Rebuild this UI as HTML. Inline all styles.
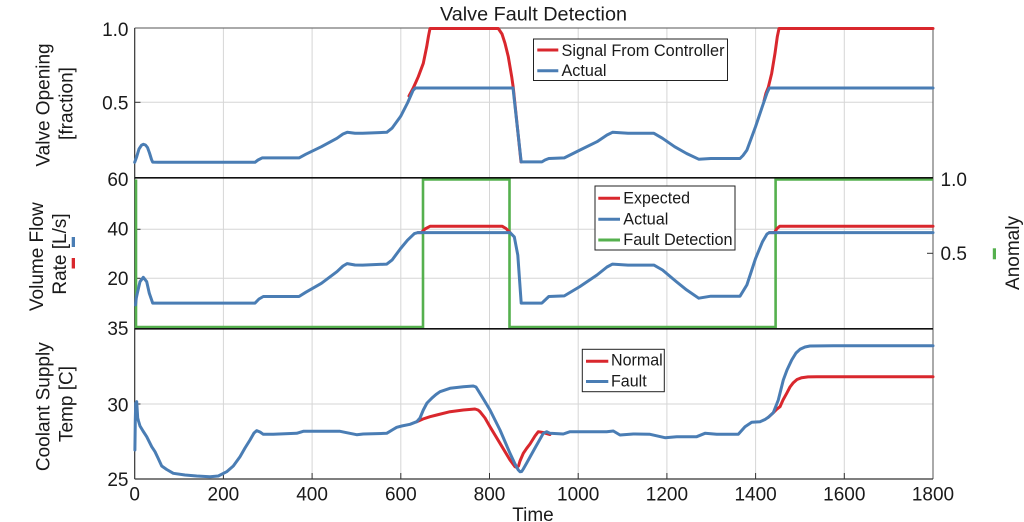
<!DOCTYPE html>
<html>
<head>
<meta charset="utf-8">
<style>
  html, body { margin: 0; padding: 0; background: #fff; }
  svg { display: block; }
  text { font-family: "Liberation Sans", Arial, sans-serif; fill: #1a1a1a; }
</style>
</head>
<body>
<svg width="1024" height="522" viewBox="0 0 1024 522" xmlns="http://www.w3.org/2000/svg">
  <rect width="1024" height="522" fill="#fff"/>

  <!-- Vertical grid -->
  <g stroke="#d6d6d6" stroke-width="1">
    <line x1="223.4" y1="28" x2="223.4" y2="479"/>
    <line x1="312.1" y1="28" x2="312.1" y2="479"/>
    <line x1="400.8" y1="28" x2="400.8" y2="479"/>
    <line x1="489.5" y1="28" x2="489.5" y2="479"/>
    <line x1="578.2" y1="28" x2="578.2" y2="479"/>
    <line x1="666.9" y1="28" x2="666.9" y2="479"/>
    <line x1="755.6" y1="28" x2="755.6" y2="479"/>
    <line x1="844.3" y1="28" x2="844.3" y2="479"/>
    <!-- Horizontal grid -->
    <line x1="134.7" y1="102.3" x2="933" y2="102.3"/>
    <line x1="134.7" y1="229.3" x2="933" y2="229.3"/>
    <line x1="134.7" y1="278.3" x2="933" y2="278.3"/>
    <line x1="134.7" y1="404" x2="933" y2="404"/>
  </g>

  <!-- Frame -->
  <g stroke="#555" stroke-width="1" fill="none">
    <line x1="134.7" y1="28" x2="933" y2="28"/>
    <line x1="933" y1="28" x2="933" y2="479"/>
  </g>
  <g stroke="#333" stroke-width="1.2" fill="none">
    <line x1="134.7" y1="28" x2="134.7" y2="479"/>
    <line x1="134.7" y1="479" x2="933" y2="479"/>
  </g>

  <!-- Ticks -->
  <g stroke="#333" stroke-width="1">
    <line x1="134.7" y1="102.3" x2="140.5" y2="102.3"/>
    <line x1="134.7" y1="229.3" x2="140.5" y2="229.3"/>
    <line x1="134.7" y1="278.3" x2="140.5" y2="278.3"/>
    <line x1="134.7" y1="404" x2="140.5" y2="404"/>
    <line x1="927" y1="253.3" x2="933" y2="253.3"/>
    <line x1="223.4" y1="479" x2="223.4" y2="473"/>
    <line x1="312.1" y1="479" x2="312.1" y2="473"/>
    <line x1="400.8" y1="479" x2="400.8" y2="473"/>
    <line x1="489.5" y1="479" x2="489.5" y2="473"/>
    <line x1="578.2" y1="479" x2="578.2" y2="473"/>
    <line x1="666.9" y1="479" x2="666.9" y2="473"/>
    <line x1="755.6" y1="479" x2="755.6" y2="473"/>
    <line x1="844.3" y1="479" x2="844.3" y2="473"/>
  </g>

  <!-- Fault detection (green) -->
  <polyline fill="none" stroke="#55b04e" stroke-width="2.6" stroke-linejoin="miter"
    points="136,179.5 136,327 423,327 423,179.5 509.5,179.5 509.5,327 775.6,327 775.6,179.5 933,179.5"/>

  <!-- Panel separators (black) -->
  <g stroke="#111" stroke-width="1.6">
    <line x1="134.7" y1="177.8" x2="933" y2="177.8"/>
    <line x1="134.7" y1="328.8" x2="933" y2="328.8"/>
  </g>

  <g fill="none" stroke-width="3" stroke-linejoin="round" stroke-linecap="round">
    <!-- TOP PANEL: red signal from controller -->
    <polyline stroke="#d9272d" points="409,96 413,88.5 415.5,83 418.3,76.7 423.3,63.3 426.7,46.7 428.5,36 430,28.5 498.3,28.5 502,34 505,43.3 508.3,56.7 511.7,76.7 513.3,88 521,161.9"/>
    <polyline stroke="#d9272d" points="764,101 766,93 768.3,87.3 771.7,73.3 775,53.3 777.3,36.7 779,28.5 933,28.5"/>
    <!-- TOP PANEL: blue actual -->
    <polyline stroke="#4a7db4" points="134.7,162.3 136.7,156.7 139,149 141.5,145.2 143.3,144.3 145.5,145 147.5,147.5 149.5,153 151.5,159.5 152.7,162.1 158,162.3 255,162.3 258,160 262.1,157.9 299,157.9 305.9,154.2 321.4,146.7 336.9,138.3 343,134 347.2,132.3 355,133.3 362.7,133.3 386.8,132.3 392,128.2 400.6,116.4 407.5,103 413,90.5 415.4,88 513,88 521.2,161.9 541.9,161.9 545,160 548.8,158.5 564.3,157.9 579.8,150.1 597,141.7 607,135 612.5,132.3 628,133.3 653.9,133.3 662.5,138.3 674.6,146.7 686.6,153.5 698.7,159.2 710.8,158.5 740,158.5 743,155.5 746.9,150.1 751,139 755.6,126.5 762.4,106.3 767,93 769.3,88 933,88"/>

    <!-- MIDDLE PANEL: red expected -->
    <polyline stroke="#d9272d" points="418,232.6 421.3,232.6 425,229 430,226.3 502.3,226.3 506,228.5 510,232.6"/>
    <polyline stroke="#d9272d" points="769.3,232.6 774.5,232.6 777,228.5 779.7,226.3 933,226.3"/>
    <!-- MIDDLE PANEL: blue actual -->
    <polyline stroke="#4a7db4" points="135.5,305 136.3,298 137.3,293.3 140,281.7 143.3,277.3 146.7,281.7 149.3,293.3 152.7,303.1 255,303.1 259,299 263.3,296.5 299,296.5 305.9,292.2 321.4,283.3 336.9,271.7 343,266 347.2,263.6 355,265 362.7,265.1 386.8,264.1 392,260.1 400.6,248.5 407.5,240.2 414.4,233.6 418,232.6 510,232.6 514.3,236.9 517.8,255.1 521.2,303.1 541.9,303.1 548.8,296.5 564.3,295.9 579.8,286.6 597,275 607,267 612.5,264.1 628,265.1 653.9,265.1 662.5,270 676.3,281.6 686.6,289.9 698.7,298.2 710.8,296.2 740,296.2 746.9,284.9 755.6,258.4 762.4,241.9 767,234 769.3,232.6 933,232.6"/>

    <!-- BOTTOM PANEL: red normal -->
    <polyline stroke="#d9272d" points="416.7,421.7 423,419 430,416.7 436.7,415 450,411.7 463.3,410 475,409 478,410 480,411.7 485,418 490,426.7 500,443.3 510,460 515,466.7 517,467.5 518.5,466 520,461 523.3,453.3 526.7,448.3 530,444 535,436 538.3,431.7 543,432.5 550,434.5"/>
    <polyline stroke="#d9272d" points="768.3,417.3 773.3,412.7 777,409 780,406.7 783,400 786.7,393.3 790,387 793.3,382.7 797,379.5 801.7,377.7 808,376.9 816.7,376.7 933,376.7"/>
    <!-- BOTTOM PANEL: blue fault -->
    <polyline stroke="#4a7db4" points="134.9,450 135.3,420 135.7,403.3 136.7,401.7 137.7,418 138.5,421 140,426 143,431 146.7,436.7 151.7,446.7 155,451.7 158,458 161.7,466 166.7,469.5 173.3,473.3 185,475 196.7,476 210,476.7 218.3,476 226.7,471.7 233.3,466 240,456.7 245,448 250,440 254,433 256.7,430.7 260,432 263.3,434.3 273.3,434.3 296.7,433.3 303.3,431.3 340,431.3 346.7,432.7 356.7,434.7 363.3,434 386.7,433.3 393,429.5 396.7,427.3 401.7,426 410,424.3 416.7,421.7 420,418 423.3,410 427,403 431.7,398.3 436,394.5 440,391.7 450,388.3 463.3,386.7 473.3,386 476,387 478.3,390.7 484,400 490,410 500,430 510,453.3 515,464 518.3,470 520,471.7 521.7,471.5 523.3,469 526.7,463 535,448 543.3,433.3 546.7,431.7 550,433.3 563.3,434 570,431.7 606.7,431.7 613.3,431 620,435 633.3,434 650,434.3 665,437.7 676.7,436.7 696.7,436.7 705,433.3 716.7,434.3 738.3,434.3 745,426.7 751.7,422.3 760,421.7 765,419.5 768.3,417.3 773.3,412.7 778.3,400 783.3,380 787,370 791.7,360 796,353 800,349.3 805,347 810,346 833.3,345.7 933,345.7"/>
  </g>

  <!-- Title -->
  <text x="533.5" y="20.7" font-size="19" text-anchor="middle" textLength="187" lengthAdjust="spacingAndGlyphs">Valve Fault Detection</text>

  <!-- Left tick labels -->
  <g font-size="19" text-anchor="end">
    <text x="128.5" y="36">1.0</text>
    <text x="128.5" y="109.3">0.5</text>
    <text x="128.5" y="186">60</text>
    <text x="128.5" y="235.7">40</text>
    <text x="128.5" y="285">20</text>
    <text x="128.5" y="335">35</text>
    <text x="128.5" y="411.7">30</text>
    <text x="128.5" y="486">25</text>
  </g>

  <!-- Right tick labels -->
  <g font-size="19" text-anchor="start">
    <text x="940.5" y="186">1.0</text>
    <text x="940.5" y="260">0.5</text>
  </g>

  <!-- X tick labels -->
  <g font-size="19" text-anchor="middle">
    <text x="134.7" y="500.5">0</text>
    <text x="223.4" y="500.5">200</text>
    <text x="312.1" y="500.5">400</text>
    <text x="400.8" y="500.5">600</text>
    <text x="489.5" y="500.5">800</text>
    <text x="578.2" y="500.5">1000</text>
    <text x="666.9" y="500.5">1200</text>
    <text x="755.6" y="500.5">1400</text>
    <text x="844.3" y="500.5">1600</text>
    <text x="933" y="500.5">1800</text>
  </g>
  <text x="533" y="521" font-size="19" text-anchor="middle">Time</text>

  <!-- Y axis labels -->
  <g font-size="19" text-anchor="middle">
    <text transform="translate(49.5,105) rotate(-90)">Valve Opening</text>
    <text transform="translate(72.5,103.5) rotate(-90)">[fraction]</text>
    <text transform="translate(43,256.7) rotate(-90)">Volume Flow</text>
    <text transform="translate(66,254) rotate(-90)">Rate [L/s]</text>
    <text transform="translate(49.5,406.7) rotate(-90)">Coolant Supply</text>
    <text transform="translate(72.5,404) rotate(-90)">Temp [C]</text>
    <text transform="translate(1019,253) rotate(-90)">Anomaly</text>
  </g>
  <rect x="71.7" y="237" width="3.3" height="10" fill="#4a7db4"/>
  <rect x="71.7" y="258" width="3.3" height="10.5" fill="#d9272d"/>
  <rect x="992.8" y="248.3" width="3.2" height="11" fill="#55b04e"/>

  <!-- Legend 1 -->
  <rect x="533.5" y="39" width="194" height="41.5" fill="#fff" stroke="#222" stroke-width="1"/>
  <line x1="537.3" y1="50" x2="558.3" y2="50" stroke="#d9272d" stroke-width="3"/>
  <line x1="537.3" y1="70.7" x2="558.3" y2="70.7" stroke="#4a7db4" stroke-width="3"/>
  <text x="561.5" y="55.8" font-size="17" textLength="163" lengthAdjust="spacingAndGlyphs">Signal From Controller</text>
  <text x="561.5" y="76" font-size="17" textLength="45" lengthAdjust="spacingAndGlyphs">Actual</text>

  <!-- Legend 2 -->
  <rect x="595" y="186" width="140" height="64" fill="#fff" stroke="#222" stroke-width="1"/>
  <line x1="598.3" y1="198.3" x2="620" y2="198.3" stroke="#d9272d" stroke-width="3"/>
  <line x1="598.3" y1="219.3" x2="620" y2="219.3" stroke="#4a7db4" stroke-width="3"/>
  <line x1="598.3" y1="240" x2="620" y2="240" stroke="#55b04e" stroke-width="3"/>
  <text x="623.3" y="203.5" font-size="17" textLength="66.7" lengthAdjust="spacingAndGlyphs">Expected</text>
  <text x="623.3" y="224.3" font-size="17" textLength="45" lengthAdjust="spacingAndGlyphs">Actual</text>
  <text x="623.3" y="245.2" font-size="17" textLength="109.3" lengthAdjust="spacingAndGlyphs">Fault Detection</text>

  <!-- Legend 3 -->
  <rect x="582.3" y="349.3" width="82" height="42.4" fill="#fff" stroke="#222" stroke-width="1"/>
  <line x1="586" y1="361.3" x2="608.3" y2="361.3" stroke="#d9272d" stroke-width="3"/>
  <line x1="586" y1="381.5" x2="608.3" y2="381.5" stroke="#4a7db4" stroke-width="3"/>
  <text x="611" y="365.7" font-size="17" textLength="51.7" lengthAdjust="spacingAndGlyphs">Normal</text>
  <text x="611" y="386.7" font-size="17" textLength="35.7" lengthAdjust="spacingAndGlyphs">Fault</text>
</svg>
</body>
</html>
